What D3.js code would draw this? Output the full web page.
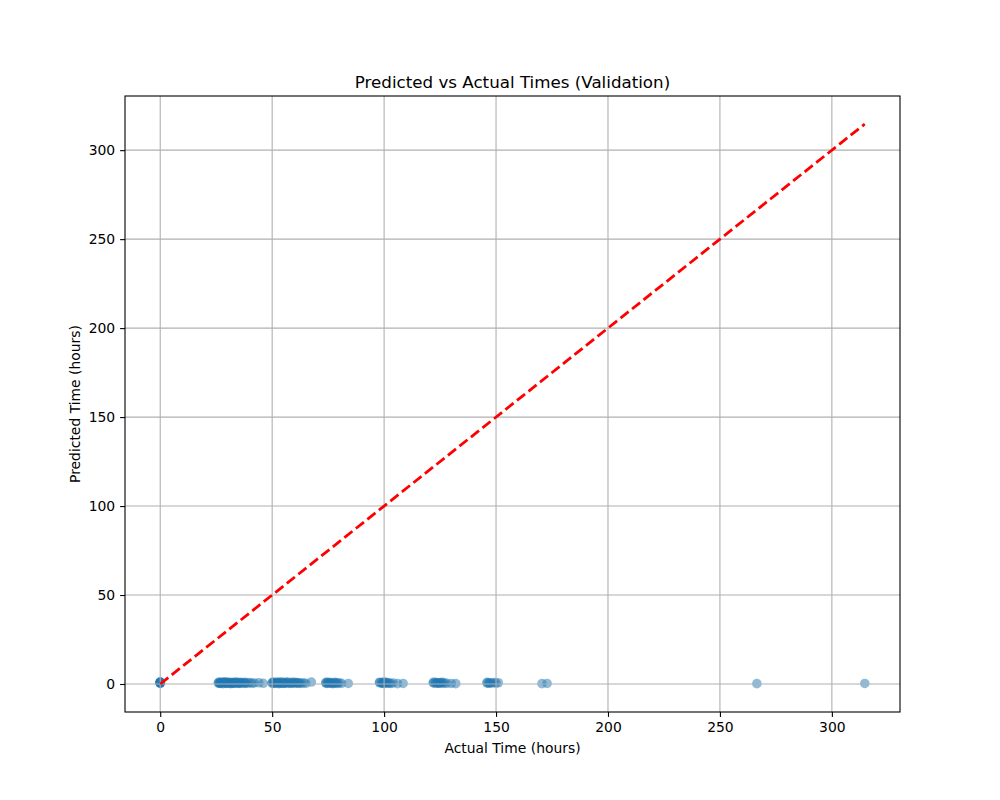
<!DOCTYPE html>
<html>
<head>
<meta charset="utf-8">
<script src="https://cdn.jsdelivr.net/npm/d3@7"></script>
<style>
body { margin: 0; background: #fff; }
text { font-family: "DejaVu Sans", sans-serif; fill: #000; }
</style>
</head>
<body>
<svg id="chart" width="1000" height="800"></svg>
<script>
const actualTimes = [
  0, 0, 0, 0, 0, 0, 0, 0,
  26, 26, 26.5, 26.5, 27, 27, 27.5, 28, 28, 28.5, 29, 29, 29.5, 30, 30, 30.5, 31, 31, 31.5, 32, 32, 32.5, 33, 33, 33.5, 34, 34, 35, 35, 35.5, 36, 36, 37, 37.5, 38, 38, 39, 40, 41, 42, 44, 46,
  50, 50, 50.5, 51, 51, 52, 52, 52.5, 53, 53, 53.5, 54, 54, 55, 55, 55.5, 56, 56, 57, 57, 58, 58, 59, 59, 60, 60, 61, 61, 62, 62, 63, 64, 65, 67.5,
  74, 74, 74.5, 75, 75, 76, 76, 77, 77, 78, 78, 79, 79, 80, 81, 84,
  98, 98, 99, 99, 99.5, 100, 100, 101, 101, 102, 102, 103, 104, 106, 108.5,
  122, 122, 123, 123, 124, 124, 125, 125, 126, 126, 127, 128, 130, 132,
  146, 146, 147, 147, 148, 149, 150, 151,
  170.5, 172.8,
  266.5, 314.7
];
const predictedTimes = [
  0.6, 1.0, 0.4, 0.8, 1.2, 0.7, 0.5, 0.9,
  0.5, 0.9, 0.3, 0.7, 1.1, 0.4, 0.6, 1.0, 0.2, 0.8, 0.5, 1.2, 0.3, 0.7, 0.9, 0.4, 1.0, 0.6, 0.2, 0.8, 0.5, 0.3, 0.7, 0.9, 0.4, 0.6, 1.1, 0.3, 0.8, 0.5, 1.0, 0.4, 0.7, 0.6, 0.9, 0.3, 0.5, 0.8, 0.4, 0.6, 0.7, 0.4,
  0.8, 0.4, 1.1, 0.6, 0.3, 0.9, 0.5, 1.0, 0.2, 0.7, 0.6, 0.4, 1.2, 0.8, 0.3, 0.5, 0.9, 0.6, 0.4, 1.1, 0.7, 0.3, 0.9, 0.5, 1.0, 0.4, 0.8, 0.6, 0.3, 0.7, 0.5, 0.6, 0.4, 1.1,
  0.5, 0.9, 0.3, 0.7, 1.0, 0.4, 0.8, 0.6, 0.2, 0.9, 0.5, 0.7, 0.3, 0.6, 0.4, 0.3,
  0.7, 1.0, 0.4, 0.8, 0.5, 1.1, 0.3, 0.6, 0.9, 0.4, 0.7, 0.3, 0.6, 0.2, 0.3,
  0.6, 0.9, 0.4, 1.0, 0.7, 0.5, 0.8, 0.3, 0.6, 0.9, 0.5, 0.4, 0.3, 0.2,
  0.5, 0.9, 0.4, 0.7, 0.6, 0.8, 0.5, 0.7,
  0.2, 0.3,
  0.2, 0.3
];
const xTicks = [0, 50, 100, 150, 200, 250, 300];
const yTicks = [0, 50, 100, 150, 200, 250, 300];
const titleText = "Predicted vs Actual Times (Validation)";
const xLabel = "Actual Time (hours)";
const yLabel = "Predicted Time (hours)";

const svg = d3.select("#chart");
const L = 125, R = 900, T = 96, B = 712;
const maxVal = d3.max(actualTimes);
const minVal = d3.min(actualTimes);
const pad = (maxVal - minVal) * 0.05;
const yMaxData = Math.max(maxVal, d3.max(predictedTimes));
const x = d3.scaleLinear().domain([minVal - pad, maxVal + pad]).range([L, R]);
const y = d3.scaleLinear().domain([minVal - pad, yMaxData + pad]).range([B, T]);

svg.append("rect").attr("x", 0).attr("y", 0).attr("width", 1000).attr("height", 800).attr("fill", "#fff");

// points
const pts = svg.append("g");
actualTimes.forEach((a, i) => {
  pts.append("circle")
    .attr("cx", x(a)).attr("cy", y(predictedTimes[i]))
    .attr("r", 4.8)
    .attr("fill", "#1f77b4").attr("fill-opacity", 0.5);
});

// grid (above collections, like matplotlib)
const grid = svg.append("g").attr("stroke", "#b0b0b0").attr("stroke-width", 1.1);
xTicks.forEach(t => grid.append("line").attr("x1", x(t)).attr("x2", x(t)).attr("y1", T).attr("y2", B));
yTicks.forEach(t => grid.append("line").attr("x1", L).attr("x2", R).attr("y1", y(t)).attr("y2", y(t)));

// diagonal
svg.append("line")
  .attr("x1", x(minVal)).attr("y1", y(minVal))
  .attr("x2", x(maxVal)).attr("y2", y(maxVal))
  .attr("stroke", "red").attr("stroke-width", 2.8)
  .attr("stroke-dasharray", "10.3,4.4");

// axes
const xAxis = d3.axisBottom(x).tickValues(xTicks).tickSize(4.9).tickPadding(4.9).tickFormat(d3.format("d"));
const yAxis = d3.axisLeft(y).tickValues(yTicks).tickSize(4.9).tickPadding(4.9).tickFormat(d3.format("d"));
const gx = svg.append("g").attr("transform", `translate(0,${B})`).call(xAxis);
const gy = svg.append("g").attr("transform", `translate(${L},0)`).call(yAxis);
[gx, gy].forEach(g => {
  g.select(".domain").remove();
  g.selectAll("line").attr("stroke", "#000").attr("stroke-width", 1.1);
  g.selectAll("text").style("font-family", "DejaVu Sans").style("font-size", "13.9px").attr("fill", "#000");
});

// frame
svg.append("rect").attr("x", L).attr("y", T).attr("width", R - L).attr("height", B - T)
  .attr("fill", "none").attr("stroke", "#000").attr("stroke-width", 1.1);

svg.append("text").attr("x", (L + R) / 2).attr("y", 88).attr("text-anchor", "middle")
  .style("font-size", "16.7px").text(titleText);
svg.append("text").attr("x", (L + R) / 2).attr("y", 753).attr("text-anchor", "middle")
  .style("font-size", "13.9px").text(xLabel);
svg.append("text").attr("transform", `translate(80,${(T + B) / 2}) rotate(-90)`).attr("text-anchor", "middle")
  .style("font-size", "13.9px").text(yLabel);
</script>
</body>
</html>
